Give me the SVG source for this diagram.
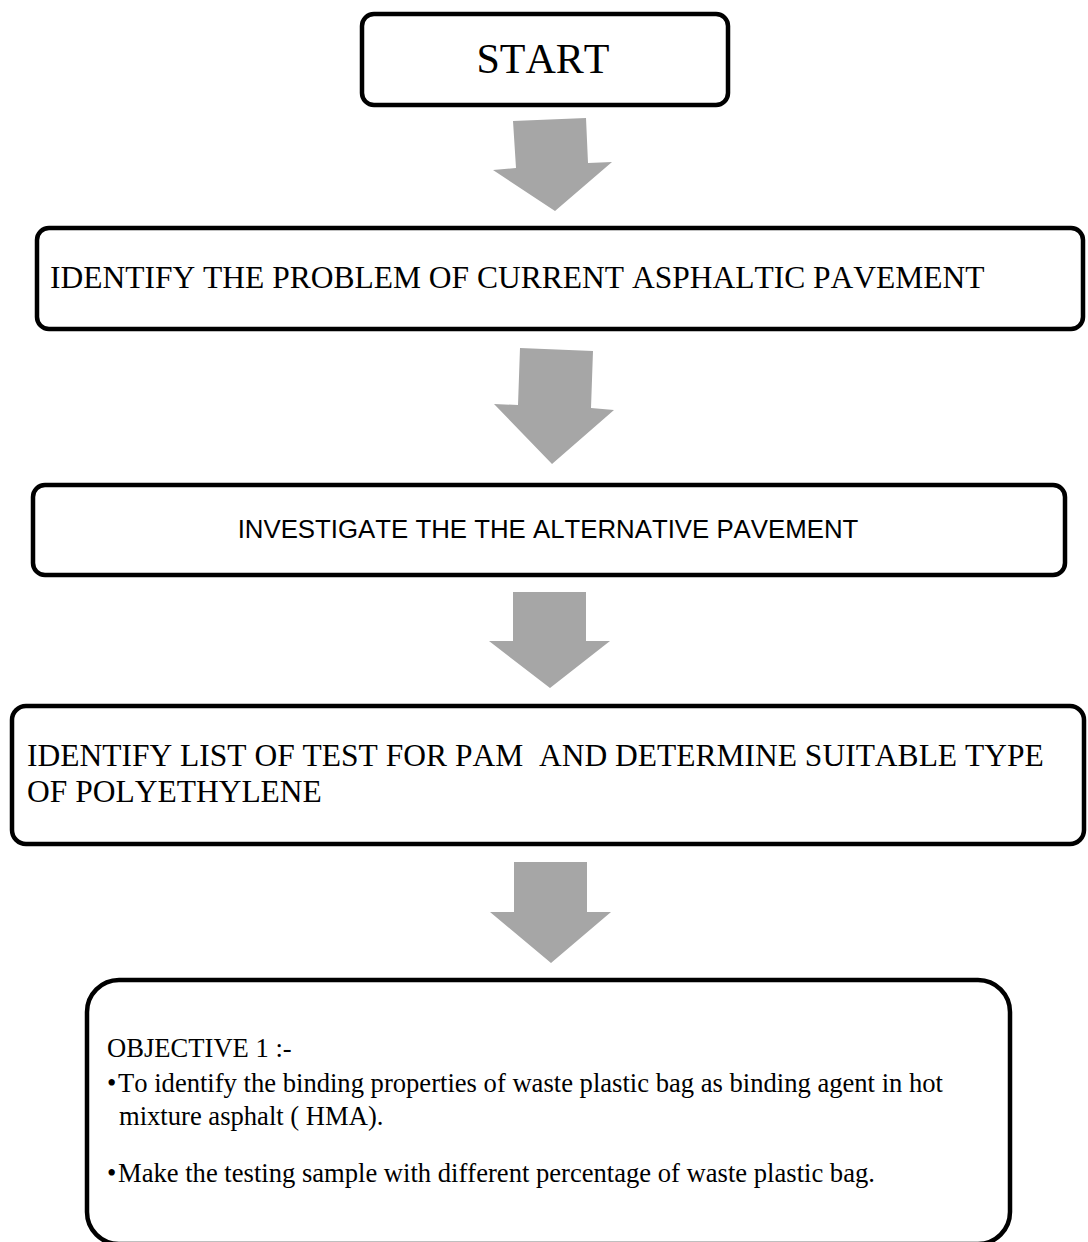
<svg xmlns="http://www.w3.org/2000/svg" width="1088" height="1242" viewBox="0 0 1088 1242">
<style>
.box{fill:#fff;stroke:#000;stroke-width:4.5}
.arr{fill:#a6a6a6;stroke:none}
text{font-kerning:none}
.serif{font-family:"Liberation Serif","Times New Roman",serif;fill:#000}
.sans{font-family:"Liberation Sans",Arial,sans-serif;fill:#000}
</style>
<rect width="1088" height="1242" fill="#fff"/>
<g id="connectors">
<polygon class="arr" points="513,121 586,118 588,163 612,162 555,211 493,170 516,168"/>
<polygon class="arr" points="520,348 593,351 591,408 614,410 552,464 494,404 518,405"/>
<polygon class="arr" points="513,592 586,592 586,641 610,641 550,688 489,641 513,641"/>
<polygon class="arr" points="514,862 587,862 587,912 611,912 551,963 490,912 514,912"/>
</g>
<g id="start">
<rect class="box" x="362" y="14" width="366" height="91" rx="12"/>
<text class="serif" x="543" y="73" font-size="42" text-anchor="middle">START</text>
</g>
<g id="identify-problem">
<rect class="box" x="37" y="228" width="1046" height="101" rx="12"/>
<text class="serif" x="50" y="288" font-size="31.5">IDENTIFY THE PROBLEM OF CURRENT ASPHALTIC PAVEMENT</text>
</g>
<g id="investigate">
<rect class="box" x="33" y="485" width="1032" height="90" rx="12"/>
<text class="sans" x="548" y="538" font-size="25.8" text-anchor="middle">INVESTIGATE THE THE ALTERNATIVE PAVEMENT</text>
</g>
<g id="identify-tests">
<rect class="box" x="12" y="706" width="1072" height="138" rx="14"/>
<text class="serif" font-size="31.5" xml:space="preserve"><tspan x="27" y="766">IDENTIFY LIST OF TEST FOR PAM  AND DETERMINE SUITABLE TYPE</tspan><tspan x="27" y="802">OF POLYETHYLENE</tspan></text>
</g>
<g id="objective-1">
<rect class="box" x="87" y="980" width="923" height="264" rx="32"/>
<text class="serif" font-size="26.6">
<tspan x="107" y="1057">OBJECTIVE 1 :-</tspan>
<tspan x="107" y="1092">•</tspan><tspan x="118" y="1092">To identify the binding properties of waste plastic bag as binding agent in hot</tspan>
<tspan x="119" y="1125">mixture asphalt ( HMA).</tspan>
<tspan x="107" y="1182">•</tspan><tspan x="118" y="1182">Make the testing sample with different percentage of waste plastic bag.</tspan>
</text>
</g>
</svg>
